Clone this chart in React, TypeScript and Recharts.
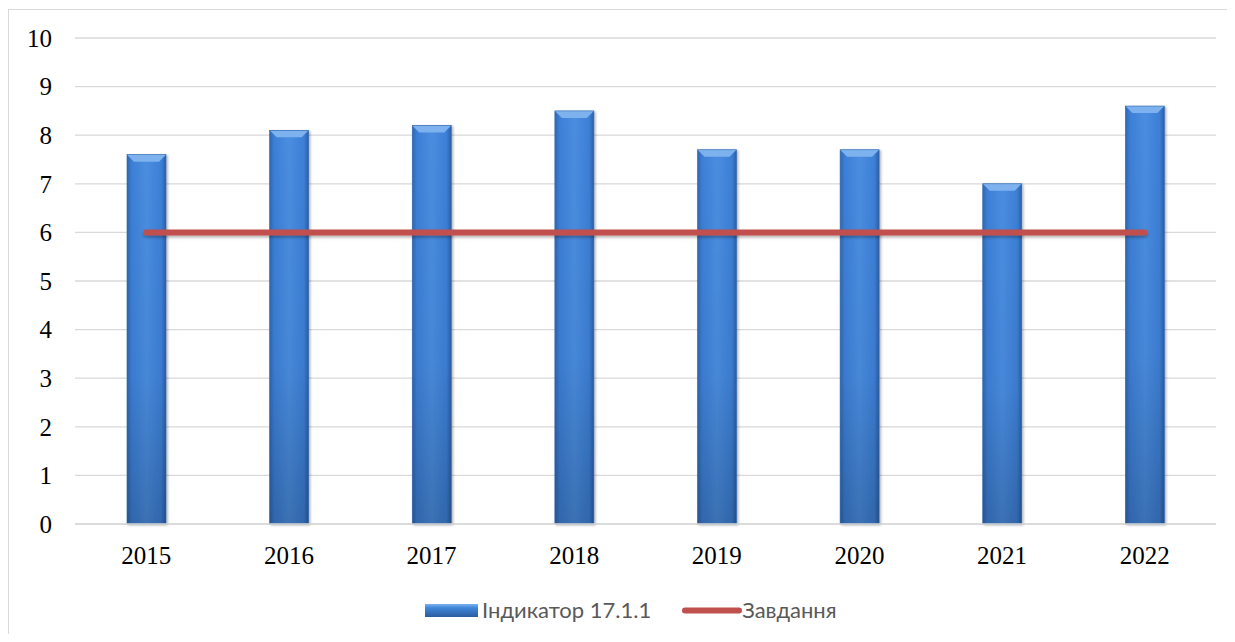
import React from "react";
import { ComposedChart, Bar, Line, XAxis, YAxis, CartesianGrid } from "recharts";

const years = ["2015", "2016", "2017", "2018", "2019", "2020", "2021", "2022"];
const indicator = [7.6, 8.1, 8.2, 8.5, 7.7, 7.7, 7.0, 8.6];
const target = [6, 6, 6, 6, 6, 6, 6, 6];
const yTicks = [0, 1, 2, 3, 4, 5, 6, 7, 8, 9, 10];
const seriesNames = ["Індикатор 17.1.1", "Завдання"];

const data = years.map((y, i) => ({ year: y, indicator: indicator[i], target: target[i] }));

const BarShape = (props: any) => {
  const { x, y, width, height } = props;
  if (!height || height <= 0) return null;
  const b = Math.min(7, width / 4);
  return (
    <g filter="url(#barShadow)">
      <rect x={x} y={y} width={width} height={height} fill="url(#barGrad)" />
      <rect x={x} y={y} width={width} height={height} fill="url(#barVGrad)" />
      <polygon
        points={`${x},${y} ${x + width},${y} ${x + width - b},${y + b} ${x + b},${y + b}`}
        fill="#7DB2EE"
      />
      <rect x={x} y={y} width={width} height={height} fill="none" stroke="#2E64AE" strokeWidth={0.6} />
    </g>
  );
};

const LegendBarIcon = () => (
  <svg width={53} height={13} style={{ display: "block" }}>
    <defs>
      <linearGradient id="lgBar" x1="0" y1="0" x2="0" y2="1">
        <stop offset="0" stopColor="#7DB2EE" />
        <stop offset="0.3" stopColor="#3F86DA" />
        <stop offset="1" stopColor="#2A5C9E" />
      </linearGradient>
    </defs>
    <rect x={0} y={0} width={53} height={13} fill="url(#lgBar)" />
  </svg>
);

const LegendLineIcon = () => (
  <svg width={60} height={13} style={{ display: "block" }}>
    <line x1={3} y1={6.5} x2={57} y2={6.5} stroke="#C0504D" strokeWidth={6} strokeLinecap="round" />
  </svg>
);

export default function App() {
  return (
    <div style={{ position: "relative", width: 1219, height: 626, overflow: "hidden" }}>
      <div
        style={{
          position: "absolute",
          left: 0,
          top: 1,
          width: 1400,
          height: 800,
          borderLeft: "1px solid #D9D9D9",
          borderTop: "1px solid #D9D9D9",
        }}
      />
      <ComposedChart
        width={1219}
        height={626}
        data={data}
        margin={{ top: 30, right: 11, left: 0, bottom: 0 }}
        style={{ position: "absolute", left: 0, top: 0 }}
      >
        <defs>
          <linearGradient id="barGrad" x1="0" y1="0" x2="1" y2="0">
            <stop offset="0" stopColor="#2F67B2" />
            <stop offset="0.12" stopColor="#3C7FD6" />
            <stop offset="0.5" stopColor="#4A8DE0" />
            <stop offset="0.88" stopColor="#3C7FD6" />
            <stop offset="1" stopColor="#2C5FA6" />
          </linearGradient>
          <linearGradient id="barVGrad" x1="0" y1="0" x2="0" y2="1">
            <stop offset="0" stopColor="#000000" stopOpacity={0} />
            <stop offset="0.6" stopColor="#000000" stopOpacity={0.04} />
            <stop offset="1" stopColor="#000000" stopOpacity={0.2} />
          </linearGradient>
          <filter id="barShadow" x="-20%" y="-5%" width="140%" height="110%">
            <feDropShadow dx={1.5} dy={1} stdDeviation={1.2} floodColor="#000" floodOpacity={0.3} />
          </filter>
          <filter id="lineShadow" filterUnits="userSpaceOnUse" x={0} y={0} width={1219} height={626}>
            <feDropShadow dx={0} dy={2} stdDeviation={1.5} floodColor="#000" floodOpacity={0.3} />
          </filter>
        </defs>
        <CartesianGrid vertical={false} stroke="#D9D9D9" strokeWidth={1.3} />
        <XAxis
          dataKey="year"
          height={110}
          tickSize={0}
          tickMargin={22}
          axisLine={{ stroke: "#D9D9D9", strokeWidth: 1.3 }}
          tickLine={false}
          tick={{ fill: "#000", fontSize: 25, fontFamily: "'Liberation Serif', 'Times New Roman', serif" }}
        />
        <YAxis
          width={67}
          domain={[0, 10]}
          ticks={yTicks}
          interval={0}
          tickSize={0}
          tickMargin={23}
          axisLine={false}
          tickLine={false}
          tick={{ fill: "#000", fontSize: 25, fontFamily: "'Liberation Serif', 'Times New Roman', serif" }}
        />
        <Bar dataKey="indicator" name={seriesNames[0]} barSize={39} shape={BarShape} isAnimationActive={false} />
        <Line
          dataKey="target"
          name={seriesNames[1]}
          stroke="#C0504D"
          strokeWidth={6}
          strokeLinecap="round"
          dot={false}
          activeDot={false}
          filter="url(#lineShadow)"
          isAnimationActive={false}
        />
      </ComposedChart>
      <div
        style={{
          position: "absolute",
          left: 417,
          top: 589,
          height: 26,
          lineHeight: "26px",
          display: "flex",
          alignItems: "center",
          fontFamily: "Lato, 'Open Sans', sans-serif",
          fontSize: 22,
          color: "#595959",
          whiteSpace: "nowrap",
        }}
      >
        <LegendBarIcon />
        <span style={{ marginLeft: 4 }}>{seriesNames[0]}</span>
        <span style={{ width: 31 }} />
        <LegendLineIcon />
        <span>{seriesNames[1]}</span>
      </div>
    </div>
  );
}
